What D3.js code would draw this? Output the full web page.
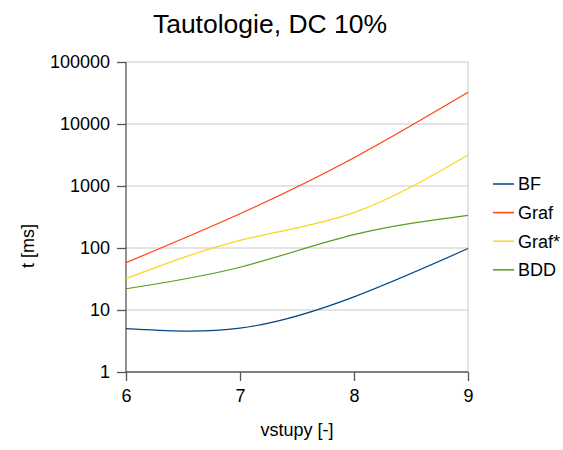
<!DOCTYPE html>
<html>
<head>
<meta charset="utf-8">
<script src="https://cdn.jsdelivr.net/npm/d3@7"></script>
<style>
  body { margin: 0; background: #fff; }
  svg text { font-family: 'Liberation Sans', Arial, sans-serif; fill: #000; }
</style>
</head>
<body>
<div class="canvas"></div>
<script>
// data
const vstupy = [6, 7, 8, 9];
const bf = [5.0, 5.1, 16.3, 98];
const graf = [58, 357, 2860, 32500];
const grafStar = [32, 133, 372, 3170];
const bdd = [22, 49, 164, 336];
const yTicks = [1, 10, 100, 1000, 10000, 100000];

const series = [
  { name: 'BF', values: bf, colour: '#004586' },
  { name: 'Graf', values: graf, colour: '#ff420e' },
  { name: 'Graf*', values: grafStar, colour: '#ffd320' },
  { name: 'BDD', values: bdd, colour: '#579d1c' }
];

const svg = d3.select('.canvas')
  .append('svg')
  .attr('width', 563)
  .attr('height', 450);

const margin = { top: 62, left: 126 };
const width = 342;
const height = 310;

const chart = svg.append('g')
  .attr('transform', `translate(${margin.left}, ${margin.top})`);

const x = d3.scaleLinear().domain([6, 9]).range([0, width]);
const y = d3.scaleLog().domain([1, 100000]).range([height, 0]);

// mrezne linije
chart.append('g')
  .selectAll('line')
  .data(yTicks.slice(1))
  .enter()
  .append('line')
  .attr('x1', 0)
  .attr('x2', width)
  .attr('y1', d => y(d))
  .attr('y2', d => y(d))
  .attr('stroke', '#c8c8c8')
  .attr('stroke-width', 1);

chart.append('line')
  .attr('x1', width).attr('x2', width)
  .attr('y1', 0).attr('y2', height)
  .attr('stroke', '#c8c8c8');

// osi
const xAxis = d3.axisBottom(x).tickValues(vstupy).tickFormat(d3.format('d')).tickSize(9).tickPadding(8);
const yAxis = d3.axisLeft(y).tickValues(yTicks).tickFormat(d => d).tickSize(9).tickPadding(7);

const xAxisGroup = chart.append('g')
  .attr('transform', `translate(0, ${height})`)
  .call(xAxis);

const yAxisGroup = chart.append('g').call(yAxis);

[xAxisGroup, yAxisGroup].forEach(g => {
  g.select('.domain').attr('stroke', '#555').attr('stroke-width', 1.3);
  g.selectAll('.tick line').attr('stroke', '#555').attr('stroke-width', 1.3);
  g.selectAll('.tick text')
    .style('font-size', '18px')
    .style('font-family', "'Liberation Sans', Arial, sans-serif")
    .attr('fill', '#000');
});
yAxisGroup.select('.domain').attr('d', `M0,${height}V0`);
xAxisGroup.select('.domain').attr('d', `M0,0H${width}`);

// krivulje
const line = d3.line()
  .x((d, i) => x(vstupy[i]))
  .y(d => y(d))
  .curve(d3.curveNatural);

chart.selectAll('path.series')
  .data(series)
  .enter()
  .append('path')
  .attr('class', 'series')
  .attr('fill', 'none')
  .attr('stroke', d => d.colour)
  .attr('stroke-width', 1.2)
  .attr('d', d => line(d.values));

// naslov i oznake osi
svg.append('text')
  .attr('x', 270)
  .attr('y', 33)
  .attr('text-anchor', 'middle')
  .style('font-size', '26.5px')
  .text('Tautologie, DC 10%');

svg.append('text')
  .attr('x', 297)
  .attr('y', 436)
  .attr('text-anchor', 'middle')
  .style('font-size', '18px')
  .text('vstupy [-]');

svg.append('text')
  .attr('transform', 'translate(34, 246) rotate(-90)')
  .attr('text-anchor', 'middle')
  .style('font-size', '18px')
  .text('t [ms]');

// legenda
const legend = svg.append('g').attr('transform', 'translate(493, 184)');
const items = legend.selectAll('g')
  .data(series)
  .enter()
  .append('g')
  .attr('transform', (d, i) => `translate(0, ${i * 28.6})`);

items.append('line')
  .attr('x1', 0).attr('x2', 21)
  .attr('y1', 0).attr('y2', 0)
  .attr('stroke', d => d.colour)
  .attr('stroke-width', 1.5);

items.append('text')
  .attr('x', 25)
  .attr('y', 0)
  .attr('dy', '0.35em')
  .style('font-size', '18px')
  .text(d => d.name);
</script>
</body>
</html>
